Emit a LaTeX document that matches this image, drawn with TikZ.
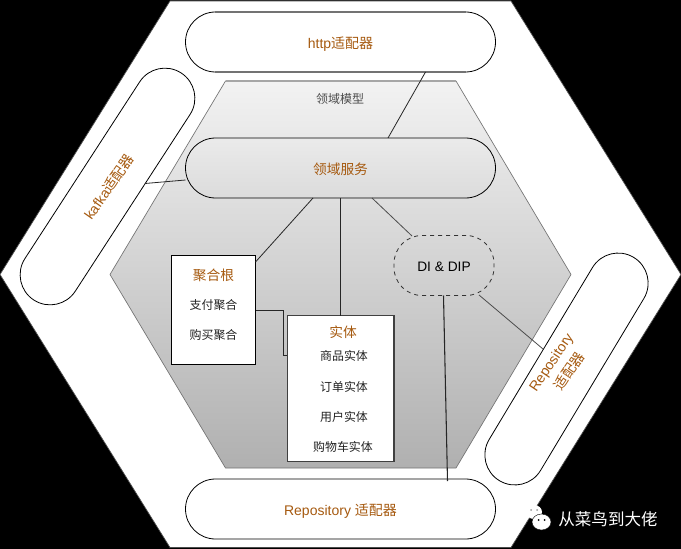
\documentclass[tikz,border=0pt]{standalone}
\usepackage{fontspec}
\setmainfont{Liberation Sans}
\newfontfamily\cjk{Noto Sans CJK SC}
\definecolor{lbl}{HTML}{A65A10}
\definecolor{ink}{HTML}{222222}
\newcommand{\nudge}[1]{\raisebox{-1.1pt}[0.7em][0pt]{#1}}
\tikzset{
  x=0.75pt,y=-0.75pt,
  pill/.style={draw=black,line width=0.6pt,fill=white,rounded corners=22.5pt,minimum width=232.5pt,minimum height=45pt,inner sep=0pt,font=\fontsize{10.5}{12}\selectfont,text=lbl},
  sidetext/.style={font=\fontsize{10.5}{12}\selectfont,text=lbl,inner sep=0pt},
  stepbox/.style={draw=black,line width=0.7pt,fill=white,inner sep=0pt},
  wire/.style={draw=black!85,line width=0.6pt},
  item/.style={font=\cjk\fontsize{8.95}{10}\selectfont,text=ink,inner sep=0pt},
  head/.style={font=\cjk\fontsize{10.3}{12}\selectfont,text=lbl,inner sep=0pt},
}
\begin{document}
\begin{tikzpicture}
\useasboundingbox (0,0) rectangle (681,549);
\fill[black] (0,0) rectangle (681,549);
\fill[white,draw=black!70,line width=0.5pt] (170,1) -- (511,1) -- (681,274.5) -- (511,547.5) -- (170,547.5) -- (0,274.5) -- cycle;
\shade[top color=black!5,bottom color=black!31,draw=black!55,line width=0.5pt] (225.5,81) -- (456,81) -- (571,274.5) -- (456,468) -- (225.5,468) -- (110,274.5) -- cycle;
\draw[black!35,line width=0.9pt] (225.5,81) -- (456,81);
% adapters
\node[pill] (http) at (340.5,42) {\nudge{http{\cjk 适配器}}};
\draw[black!55,line width=1pt] (215,12) -- (466,12) (215,72) -- (466,72);
\node[pill,top color=black!8,bottom color=black!14] (svc) at (340.5,168) {\nudge{\cjk\fontsize{10.3}{12}\selectfont 领域服务}};
\node[pill] (repoB) at (340.5,509) {\nudge{Repository {\cjk 适配器}}};
\node[pill,minimum width=203pt,rotate=57] (kafka) at (107.5,186.5) {};
\node[sidetext,rotate=55] (kafkat) at (109,187) {kafka{\cjk 适配器}};
\node[pill,minimum width=195.4pt,rotate=59] (repoR) at (566.5,369) {};
\node[sidetext,rotate=56] (repoRa) at (552,363) {Repository};
\node[sidetext,rotate=56] (repoRb) at (569,371) {\cjk 适配器};
% model label
\node[font=\cjk\fontsize{9}{10}\selectfont,text=black!70,inner sep=0pt] (model) at (340,98.5) {领域模型};
% boxes
\node[stepbox,minimum width=63pt,minimum height=82pt] (agg) at (213.5,310.25) {};
\node[head] (aggT) at (213.5,275) {聚合根};
\node[item] (agg1) at (213.5,305.5) {支付聚合};
\node[item] (agg2) at (213.5,335.5) {购买聚合};
\draw[wire] (255.5,310) -- (283.5,310) -- (283.5,355) -- (287.5,355);
\node[stepbox,draw=black!75,line width=0.9pt,minimum width=80pt,minimum height=109.5pt] (ent) at (340.75,388.5) {};
\node[head] (entT) at (343,332) {实体};
\node[item] (e1) at (344,356) {商品实体};
\node[item] (e2) at (344,386.5) {订单实体};
\node[item] (e3) at (344,416.5) {用户实体};
\node[item] (e4) at (343,446.5) {购物车实体};
\node[draw=black!80,dashed,line width=0.6pt,rounded corners=21pt,minimum width=75pt,minimum height=45pt,inner sep=0pt,font=\fontsize{10.3}{12}\selectfont,text=black] (di) at (444,265.5) {\nudge{DI \& DIP}};
% connectors
\coordinate (a1) at (425.5,72); \coordinate (a2) at (388,138);
\draw[wire] (a1) -- (a2);
\coordinate (b1) at (145,183.5); \coordinate (b2) at (185.5,180);
\draw[wire] (b1) -- (b2);
\coordinate (c1) at (313,198); \coordinate (c2) at (255.5,262);
\draw[wire] (c1) -- (c2);
\coordinate (d1) at (340,198); \coordinate (d2) at (340,315.5);
\draw[wire] (d1) -- (d2);
\coordinate (e1c) at (372,198); \coordinate (e2c) at (412,236);
\draw[wire,draw=black!70] (e1c) -- (e2c);
\coordinate (f1) at (479,295); \coordinate (f2) at (543,349);
\draw[wire,draw=black!70] (f1) -- (f2);
\coordinate (g1) at (443.5,295.5); \coordinate (g2) at (447.5,481);
\draw[wire,line width=0.8pt] (g1) -- (g2);
% watermark
\node[font=\cjk\fontsize{12.4}{14}\selectfont,text=white,inner sep=0pt] (wm) at (608,519) {从菜鸟到大佬};
\fill[white] (534,512) ellipse (8 and 7);
\fill[black!40] (531,510) circle (1);
\fill[black!40] (537,510) circle (1);
\fill[white,draw=black,line width=0.3pt] (541.5,522) ellipse (9.5 and 8);
\fill[black] (538.5,520) circle (1);
\fill[black] (544.5,520) circle (1);
\end{tikzpicture}
\end{document}
